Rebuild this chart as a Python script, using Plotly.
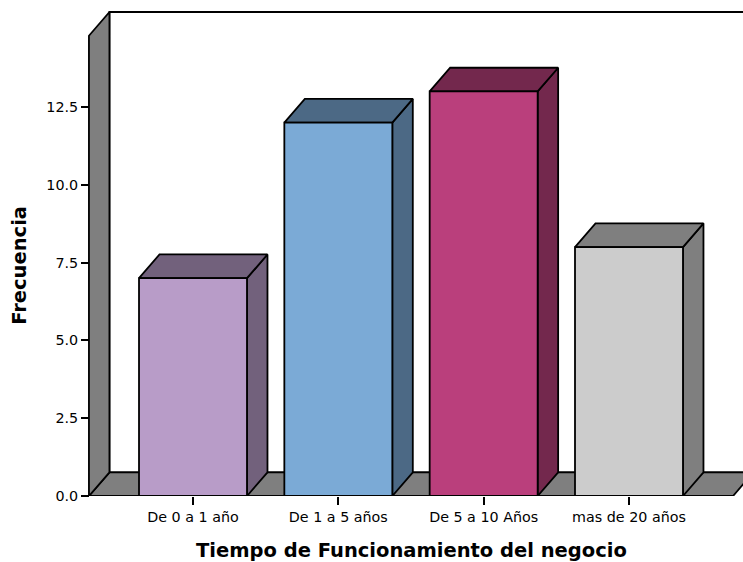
import plotly.graph_objects as go

# Data
categorias = ["De 0 a 1 año", "De 1 a 5 años", "De 5 a 10 Años", "mas de 20 años"]
frecuencias = [7, 12, 13, 8]
y_ticks = [0, 2.5, 5.0, 7.5, 10.0, 12.5]

# Face colours (front, side/top)
color_frente = ["#B89CC8", "#7BAAD6", "#BA3F7C", "#CCCCCC"]
color_lado = ["#72617C", "#4C6985", "#73284D", "#7F7F7F"]

# Pseudo-3D geometry, in axis units
BAR_W = 0.743
DX = 0.141          # depth offset along x
DY = 0.762          # depth offset along y
FLOOR_L = -0.716
FLOOR_R = 3.716
WALL_TOP = 14.79
WALL_GRAY = "#7F7F7F"
EDGE = dict(color="black", width=1.8)

fig = go.Figure()


def face(xs, ys, fill):
    fig.add_trace(go.Scatter(
        x=xs + [xs[0]], y=ys + [ys[0]], mode="lines", fill="toself",
        fillcolor=fill, line=EDGE, hoverinfo="skip", showlegend=False))


# back wall
face([FLOOR_L + DX, FLOOR_L + DX, FLOOR_R + DX, FLOOR_R + DX],
     [DY, WALL_TOP + DY, WALL_TOP + DY, DY], "white")
# floor
face([FLOOR_L, FLOOR_R, FLOOR_R + DX, FLOOR_L + DX],
     [0, 0, DY, DY], WALL_GRAY)
# left wall
face([FLOOR_L, FLOOR_L, FLOOR_L + DX, FLOOR_L + DX],
     [0, WALL_TOP, WALL_TOP + DY, DY], WALL_GRAY)

# bars: side, top and front faces
for i, v in enumerate(frecuencias):
    x0, x1 = i - BAR_W / 2, i + BAR_W / 2
    face([x1, x1 + DX, x1 + DX, x1], [0, DY, v + DY, v], color_lado[i])
    face([x0, x0 + DX, x1 + DX, x1], [v, v + DY, v + DY, v], color_lado[i])
    face([x0, x0, x1, x1], [0, v, v, 0], color_frente[i])

W, H = 743, 562
L, R, T, B = 84, 0, 8, 66
px_x = 145.33
px_y = 31.12
x_lo = (L - 193) / px_x
x_hi = x_lo + (W - L - R) / px_x
y_hi = (H - B - T) / px_y

tick_font = dict(family="DejaVu Sans, Arial, sans-serif", size=14.3, color="black")
title_font = dict(family="DejaVu Sans, Arial, sans-serif", size=19.5, color="black")

fig.update_layout(
    width=W, height=H,
    margin=dict(l=L, r=R, t=T, b=B),
    plot_bgcolor="white", paper_bgcolor="white",
    xaxis=dict(
        range=[x_lo, x_hi], tickmode="array",
        tickvals=list(range(len(categorias))), ticktext=categorias,
        ticks="outside", ticklen=8, tickwidth=2, tickcolor="black",
        showgrid=False, zeroline=False, showline=False,
        tickfont=tick_font, fixedrange=True,
    ),
    yaxis=dict(
        range=[0, y_hi], tickmode="array",
        tickvals=y_ticks, ticktext=[f"{t:.1f}" for t in y_ticks],
        ticks="outside", ticklen=8, tickwidth=2, tickcolor="black",
        showgrid=False, zeroline=False, showline=False,
        anchor="free", position=(89 - L) / (W - L - R),
        tickfont=tick_font, fixedrange=True,
    ),
    annotations=[
        dict(text="<b>Tiempo de Funcionamiento del negocio</b>",
             xref="x", yref="paper", x=(FLOOR_L + FLOOR_R) / 2,
             y=(496 - 550) / (H - B - T), xanchor="center", yanchor="middle",
             showarrow=False, font=title_font),
        dict(text="<b>Frecuencia</b>", textangle=-90,
             xref="paper", yref="y", x=(20 - L) / (W - L - R), y=WALL_TOP / 2,
             xanchor="center", yanchor="middle",
             showarrow=False, font=title_font),
    ],
)

fig.write_html("out.html")
